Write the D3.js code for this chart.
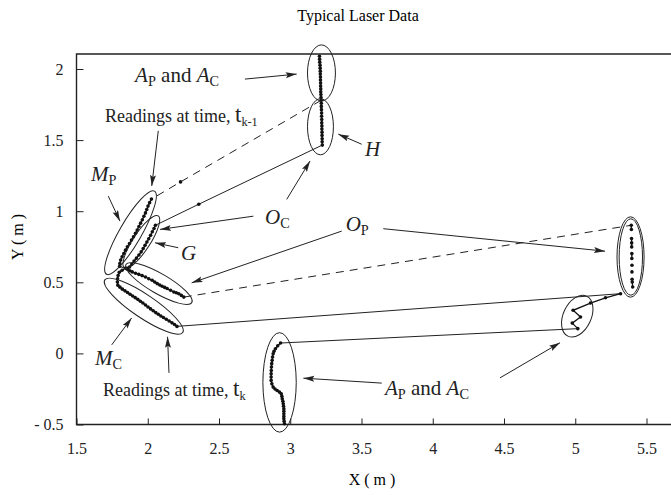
<!DOCTYPE html>
<html>
<head>
<meta charset="utf-8">
<script src="https://cdn.jsdelivr.net/npm/d3@7"></script>
<style>
  body { margin: 0; background: #fff; }
  svg { display: block; font-family: "Liberation Serif", "Times New Roman", serif; }
</style>
</head>
<body>
<svg id="chart" width="671" height="495"></svg>
<script>
// axis ticks
var xTicks = [1.5, 2, 2.5, 3, 3.5, 4, 4.5, 5, 5.5];
var yTicks = [-0.5, 0, 0.5, 1, 1.5, 2];
var yTickLabels = ['- 0.5', '0', '0.5', '1', '1.5', '2'];

// laser readings, metres
var aTop = [[3.205,2.090],[3.206,2.069],[3.207,2.048],[3.209,2.027],[3.210,2.006],[3.211,1.985],[3.211,1.964],[3.212,1.943],
            [3.212,1.922],[3.213,1.901],[3.213,1.880],[3.214,1.860],[3.214,1.840],[3.215,1.820],[3.216,1.800],[3.217,1.780]];
var hCluster = [[3.218,1.759],[3.218,1.737],[3.219,1.714],[3.220,1.691],[3.220,1.668],[3.221,1.645],[3.221,1.622],
                [3.222,1.600],[3.222,1.578],[3.223,1.556],[3.223,1.533],[3.224,1.510],[3.224,1.488],[3.225,1.465]];
var loneP = [2.230, 1.206];
var loneC = [2.358, 1.049];
var mP = [[2.026,1.085],[2.013,1.060],[2.002,1.036],[1.993,1.012],[1.984,0.988],[1.973,0.964],[1.962,0.940],[1.950,0.916],
          [1.938,0.892],[1.926,0.868],[1.914,0.845],[1.900,0.820],[1.886,0.797],[1.872,0.773],[1.857,0.750],[1.844,0.726],
          [1.832,0.703],[1.820,0.680],[1.810,0.656],[1.804,0.632],[1.803,0.612]];
var gCluster = [[2.054,0.901],[2.044,0.878],[2.032,0.855],[2.020,0.830],[2.007,0.806],[1.994,0.783],[1.981,0.760],[1.968,0.737],
                [1.954,0.714],[1.938,0.692],[1.921,0.670],[1.904,0.649],[1.888,0.628],[1.872,0.608],[1.858,0.598]];
var oP = [[1.856,0.592],[1.874,0.581],[1.891,0.573],[1.914,0.564],[1.937,0.556],[1.960,0.547],[1.984,0.537],[2.007,0.525],
          [2.031,0.514],[2.049,0.502],[2.066,0.491],[2.084,0.481],[2.101,0.472],[2.119,0.464],[2.136,0.456],[2.160,0.444],
          [2.183,0.432],[2.200,0.426],[2.218,0.420],[2.236,0.408],[2.253,0.396]];
var mC = [[1.845,0.600],[1.820,0.585],[1.800,0.570],[1.792,0.548],[1.788,0.525],[1.787,0.502],[1.790,0.480],[1.805,0.466],
          [1.822,0.452],[1.840,0.440],[1.858,0.428],[1.876,0.416],[1.894,0.404],[1.912,0.392],[1.930,0.380],[1.948,0.367],
          [1.966,0.354],[1.984,0.340],[2.002,0.326],[2.020,0.313],[2.038,0.300],[2.056,0.287],[2.074,0.275],[2.092,0.263],
          [2.110,0.252],[2.130,0.240],[2.150,0.228],[2.170,0.215],[2.188,0.203],[2.205,0.190]];
var rightCluster = [[5.393,0.901],[5.394,0.871],[5.395,0.808],[5.396,0.777],[5.396,0.749],[5.397,0.702],[5.397,0.667],
                    [5.398,0.620],[5.398,0.573],[5.399,0.521],[5.400,0.502],[5.403,0.467]];
var smallCluster = [[5.018,0.174],[4.979,0.213],[5.037,0.256],[4.985,0.303],[5.107,0.354],[5.212,0.391],[5.318,0.420]];
var bottomA = [[2.932,0.073],[2.912,0.053],[2.896,0.033],[2.886,0.015],[2.880,-0.002],[2.876,-0.025],[2.873,-0.049],
               [2.870,-0.072],[2.868,-0.096],[2.867,-0.120],[2.866,-0.143],[2.866,-0.166],[2.866,-0.190],[2.871,-0.214],
               [2.880,-0.237],[2.893,-0.250],[2.908,-0.261],[2.924,-0.272],[2.937,-0.284],[2.941,-0.302],[2.944,-0.319],
               [2.948,-0.337],[2.951,-0.354],[2.953,-0.372],[2.955,-0.389],[2.955,-0.407],[2.955,-0.425],[2.955,-0.443],
               [2.955,-0.460],[2.957,-0.478],[2.960,-0.495]];

// ellipses: centre x, centre y, semi axes (m), rotation (deg)
var ellipses = [
  [3.219, 1.972, 0.098, 0.197, 0],
  [3.212, 1.594, 0.091, 0.197, 0],
  [5.388, 0.678, 0.095, 0.282, 0],
  [5.390, 0.678, 0.082, 0.268, 0],
  [5.014, 0.262, 0.098, 0.155, 25],
  [2.925, -0.204, 0.117, 0.349, 0],
  [1.879, 0.849, 0.337, 0.077, -60],
  [1.955, 0.784, 0.218, 0.060, -57],
  [2.078, 0.491, 0.267, 0.070, 30],
  [1.972, 0.332, 0.330, 0.081, 34]
];

// annotation arrows [x1, y1, x2, y2]
var arrows = [
  [2.682, 1.929, 3.045, 1.964],
  [2.074, 1.565, 2.028, 1.177],
  [1.723, 1.106, 1.805, 0.930],
  [2.214, 0.743, 2.051, 0.778],
  [2.741, 0.965, 2.086, 0.872],
  [2.975, 1.083, 3.139, 1.353],
  [3.501, 1.471, 3.337, 1.542],
  [3.361, 0.860, 2.308, 0.496],
  [3.653, 0.877, 5.209, 0.719],
  [1.747, 0.060, 1.887, 0.249],
  [2.149, -0.137, 2.139, 0.117],
  [3.642, -0.209, 3.092, -0.174],
  [4.472, -0.172, 4.893, 0.075]
];

var svg = d3.select('#chart');
var x = d3.scaleLinear().domain([1.5, 5.5]).range([76.5, 646.5]);
var y = d3.scaleLinear().domain([-0.5, 2]).range([424.5, 69]);
var k = x(1) - x(0);

// title
svg.append('text')
  .attr('x', 358).attr('y', 21)
  .attr('text-anchor', 'middle')
  .attr('font-size', 16)
  .text('Typical Laser Data');

// axes
var xAxis = d3.axisBottom(x).tickValues(xTicks).tickSizeInner(-6).tickSizeOuter(0).tickPadding(18)
  .tickFormat(d3.format(''));
var yAxis = d3.axisLeft(y).tickValues(yTicks).tickSizeInner(-7).tickSizeOuter(0).tickPadding(13)
  .tickFormat((d, i) => yTickLabels[i]);

svg.append('g').attr('transform', `translate(0, ${y(-0.5)})`).call(xAxis);
svg.append('g').attr('transform', `translate(${x(1.5)}, 0)`).call(yAxis);
svg.selectAll('.domain').remove();
svg.selectAll('.tick text').attr('font-size', 16).attr('font-family', '"Liberation Serif", serif').attr('fill', '#222');
svg.selectAll('.tick line').attr('stroke', '#222');

// frame
svg.append('path')
  .attr('d', `M${x(5.8)},${y(2.105)} H${x(1.5)} V${y(-0.5)} H${x(5.8)}`)
  .attr('fill', 'none').attr('stroke', '#222').attr('stroke-width', 1.4);

svg.append('text')
  .attr('x', 372).attr('y', 485)
  .attr('text-anchor', 'middle').attr('font-size', 16)
  .text('X ( m )');
svg.append('text')
  .attr('transform', 'translate(23, 237) rotate(-90)')
  .attr('text-anchor', 'middle').attr('font-size', 16)
  .text('Y ( m )');

var line = d3.line().x(d => x(d[0])).y(d => y(d[1]));
var plot = svg.append('g');

// links between groups of readings
var solidLinks = [
  [hCluster[hCluster.length - 1], loneC, gCluster[0]],
  [mP[mP.length - 1], oP[0]],
  [gCluster[gCluster.length - 1], mC[0]],
  [mC[mC.length - 1], smallCluster[smallCluster.length - 1]],
  [bottomA[0], smallCluster[0]]
];
var dashedLinks = [
  [aTop[aTop.length - 1], loneP, mP[0]],
  [oP[oP.length - 1], rightCluster[0]]
];

plot.selectAll('.dash-link')
  .data(dashedLinks)
  .enter().append('path')
    .attr('d', line)
    .attr('fill', 'none').attr('stroke', '#222').attr('stroke-width', 1)
    .attr('stroke-dasharray', '8,6');

plot.selectAll('.solid-link')
  .data(solidLinks)
  .enter().append('path')
    .attr('d', line)
    .attr('fill', 'none').attr('stroke', '#222').attr('stroke-width', 1);

// connected clusters
var groups = [aTop.concat(hCluster), mP, gCluster, oP, mC, smallCluster, bottomA];
plot.selectAll('.cluster')
  .data(groups)
  .enter().append('path')
    .attr('d', line)
    .attr('fill', 'none').attr('stroke', '#111').attr('stroke-width', 1.3);

// right cluster: short segments only between close readings
var rightSegs = [];
var seg = [rightCluster[0]];
for (var i = 1; i < rightCluster.length; i++) {
  if (rightCluster[i - 1][1] - rightCluster[i][1] < 0.04) seg.push(rightCluster[i]);
  else { rightSegs.push(seg); seg = [rightCluster[i]]; }
}
rightSegs.push(seg);
plot.selectAll('.rseg')
  .data(rightSegs.filter(s => s.length > 1))
  .enter().append('path')
    .attr('d', line)
    .attr('fill', 'none').attr('stroke', '#111').attr('stroke-width', 1.3);

// dots
var allPoints = [].concat(aTop, hCluster, [loneP, loneC], mP, gCluster, oP, mC, rightCluster, smallCluster, bottomA);
plot.selectAll('circle')
  .data(allPoints)
  .enter().append('circle')
    .attr('cx', d => x(d[0]))
    .attr('cy', d => y(d[1]))
    .attr('r', 1.8)
    .attr('fill', '#111');

// ellipses
plot.selectAll('ellipse')
  .data(ellipses)
  .enter().append('ellipse')
    .attr('transform', d => `translate(${x(d[0])}, ${y(d[1])}) rotate(${d[4]})`)
    .attr('rx', d => d[2] * k)
    .attr('ry', d => d[3] * k)
    .attr('fill', 'none').attr('stroke', '#222').attr('stroke-width', 1);

// arrows
svg.append('defs').append('marker')
  .attr('id', 'head')
  .attr('markerUnits', 'userSpaceOnUse')
  .attr('markerWidth', 12).attr('markerHeight', 8)
  .attr('refX', 11).attr('refY', 3)
  .attr('orient', 'auto')
  .append('path').attr('d', 'M0,0 L11,3 L0,6 L2,3 Z').attr('fill', '#222');

svg.selectAll('.arrow')
  .data(arrows)
  .enter().append('line')
    .attr('x1', d => x(d[0])).attr('y1', d => y(d[1]))
    .attr('x2', d => x(d[2])).attr('y2', d => y(d[3]))
    .attr('stroke', '#222').attr('stroke-width', 1)
    .attr('marker-end', 'url(#head)');

// labels: [x, y, parts, size]  parts: [text, style] with style 'i' italic, 's' subscript, 'n' normal, 'b' big
var labels = [
  [1.911, 1.908, [['A','i'],['P','s'],[' and ','n'],['A','i'],['C','s']], 21],
  [1.700, 1.626, [['Readings at time, ','n'],['t','b'],['k-1','s']], 18],
  [1.602, 1.210, [['M','i'],['P','s']], 21],
  [2.233, 0.660, [['G','i']], 21],
  [2.823, 0.907, [['O','i'],['C','s']], 21],
  [3.525, 1.386, [['H','i']], 21],
  [3.389, 0.860, [['O','i'],['P','s']], 21],
  [1.630, -0.080, [['M','i'],['C','s']], 21],
  [1.686, -0.300, [['Readings at time, ','n'],['t','b'],['k','s']], 18],
  [3.665, -0.292, [['A','i'],['P','s'],[' and ','n'],['A','i'],['C','s']], 21]
];

labels.forEach(function(lb) {
  var t = svg.append('text')
    .attr('x', x(lb[0])).attr('y', y(lb[1]))
    .attr('font-size', lb[3]).attr('fill', '#222');
  var down = false;
  lb[2].forEach(function(p) {
    var sp = t.append('tspan').text(p[0]);
    if (p[1] === 'i') sp.attr('font-style', 'italic');
    if (p[1] === 'b') sp.attr('font-size', lb[3] + 5);
    if (p[1] === 's') { sp.attr('font-size', lb[3] * 0.68).attr('dy', 4); down = true; }
    else if (down) { sp.attr('dy', -4); down = false; }
  });
});
</script>
</body>
</html>
